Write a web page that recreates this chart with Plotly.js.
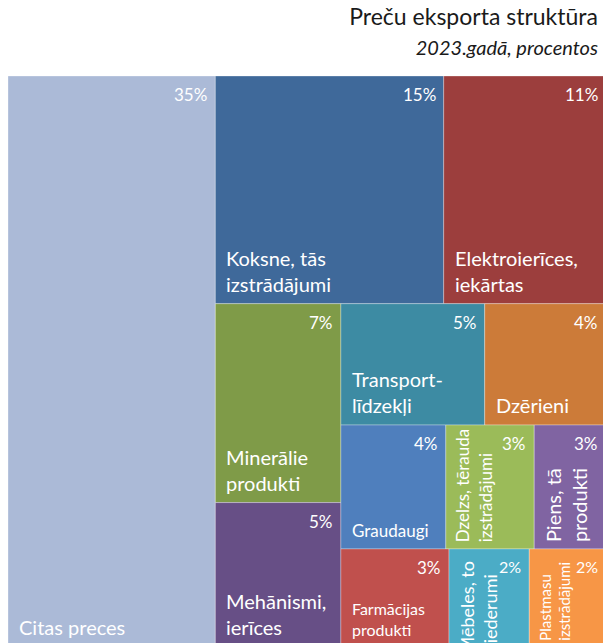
<!DOCTYPE html>
<html><head><meta charset="utf-8">
<script src="https://cdn.plot.ly/plotly-3.0.1.min.js"></script>
<style>
html,body{margin:0;padding:0;overflow:hidden;background:#fff;width:603px;height:643px}
#chart{width:606px;height:647px}
</style>
</head><body><div id="chart"></div>
<script>
// ---- data ----
const categories = ["Citas preces","Koksne, tās izstrādājumi","Elektroierīces, iekārtas","Minerālie produkti","Mehānismi, ierīces","Transportlīdzekļi","Dzērieni","Graudaugi","Dzelzs, tērauda izstrādājumi","Piens, tā produkti","Farmācijas produkti","Mēbeles, to piederumi","Plastmasu izstrādājumi"];
const shares = [34.6, 15.2, 10.8, 7.3, 5.3, 5.1, 4.3, 3.8, 3.2, 2.6, 3.1, 2.3, 2.2];
const cellLabels = ["Citas preces","Koksne, tās<br>izstrādājumi","Elektroierīces,<br>iekārtas","Minerālie<br>produkti","Mehānismi,<br>ierīces","Transport-<br>līdzekļi","Dzērieni","Graudaugi","Dzelzs, tērauda<br>izstrādājumi","Piens, tā<br>produkti","Farmācijas<br>produkti","Mēbeles, to<br>piederumi","Plastmasu<br>izstrādājumi"];
const titleText = "Preču eksporta struktūra";
const subtitleText = "2023.gadā, procentos";

// ---- styles ----
const colors = ["#abbad7","#3f699a","#9c3e3d","#7f9b48","#674f86","#3d8ba3","#cc7b39","#4f7fbd","#9bbb59","#8064a2","#c0504d","#4bacc6","#f79646"];
const labelSize = [20,20,20,20,20,20,20,17,17,20,16,18,15];
const pctSize = [17,17,17,17,17,17,17,17,17,17,17,16,16];
const rotated = [false,false,false,false,false,false,false,false,true,true,false,true,true];
const topAnchor = [false,false,false,false,false,false,false,false,false,false,false,true,true];
const FONT = "Lato, 'Open Sans', sans-serif";

// grouping of the tiling (by index into categories)
const tree = {d:'x', k:[0, {d:'y', k:[{d:'x',k:[1,2]}, {d:'x',k:[{d:'y',k:[3,4]}, {d:'y',k:[{d:'x',k:[5,6]},{d:'x',k:[7,8,9]},{d:'x',k:[10,11,12]}]}]}]}]};
function total(n){return typeof n==='number'?shares[n]:n.k.reduce((a,c)=>a+total(c),0);}
const rects=[];
function lay(n,x0,y0,x1,y1){
  if(typeof n==='number'){rects[n]={x0,y0,x1,y1};return;}
  const t=total(n); let p=(n.d==='x')?x0:y0;
  n.k.forEach(c=>{
    const f=total(c)/t;
    if(n.d==='x'){const w=(x1-x0)*f; lay(c,p,y0,p+w,y1); p+=w;}
    else {const h=(y1-y0)*f; lay(c,x0,p,x1,p+h); p+=h;}
  });
}
lay(tree,0,0,1,1);

const traces = rects.map((r,i)=>({
  type:'scatter', mode:'lines', fill:'toself',
  x:[r.x0,r.x1,r.x1,r.x0,r.x0], y:[r.y0,r.y0,r.y1,r.y1,r.y0],
  fillcolor:colors[i], line:{color:'rgba(255,255,255,0.3)',width:1},
  name:categories[i], hoverinfo:'name', showlegend:false
}));

const annotations=[];
rects.forEach((r,i)=>{
  annotations.push({
    xref:'x', yref:'y', x:r.x1, y:r.y0, xanchor:'right', yanchor:'top',
    xshift:-6, yshift:-6, showarrow:false,
    text:Math.round(shares[i])+'%', font:{family:FONT,size:pctSize[i],color:'#ffffff'}
  });
  if(rotated[i]){
    annotations.push({
      xref:'x', yref:'y', x:r.x0, y: topAnchor[i]? r.y0 : r.y1,
      xanchor:'left', yanchor: topAnchor[i]?'top':'bottom',
      xshift:5, yshift: topAnchor[i]? -11 : 5, textangle:-90, align:'left', showarrow:false,
      text:cellLabels[i], font:{family:FONT,size:labelSize[i],color:'#ffffff'}
    });
  } else {
    annotations.push({
      xref:'x', yref:'y', x:r.x0, y:r.y1, xanchor:'left', yanchor:'bottom',
      xshift:9, yshift:6, align:'left', showarrow:false,
      text:cellLabels[i], font:{family:FONT,size:labelSize[i],color:'#ffffff'}
    });
  }
});

const layout = {
  width:606, height:647,
  margin:{l:8,r:0,t:76,b:0},
  paper_bgcolor:'#ffffff', plot_bgcolor:'#ffffff',
  title:{
    text:titleText + '<br><span style="font-size:20px"><i>' + subtitleText + '</i></span>',
    font:{family:FONT,size:23,color:'#1a1a1a'},
    xref:'container', x:598/606, xanchor:'right',
    yref:'container', y:1-25/647, yanchor:'top'
  },
  xaxis:{range:[0,1], visible:false, fixedrange:true},
  yaxis:{range:[1,0], visible:false, fixedrange:true},
  annotations:annotations,
  hovermode:'closest'
};
Plotly.newPlot('chart', traces, layout, {displayModeBar:false, staticPlot:true});
</script>
</body></html>
